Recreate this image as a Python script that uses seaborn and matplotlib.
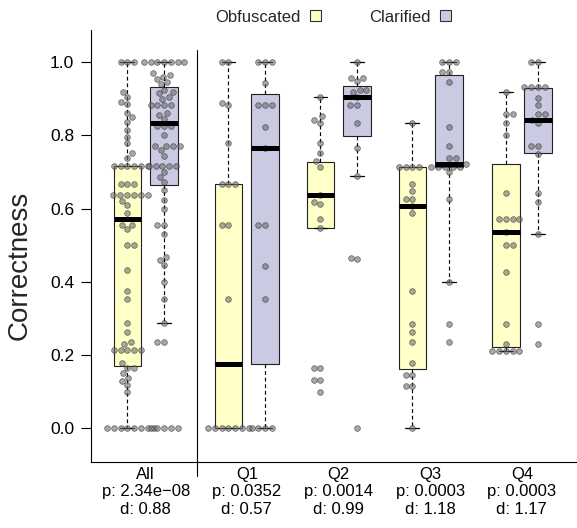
import numpy as np
import matplotlib
matplotlib.use("Agg")
import matplotlib.pyplot as plt
from matplotlib.patches import Patch
import seaborn as sns

# ---------------- data ----------------
groups = ["All", "Q1", "Q2", "Q3", "Q4"]
p_values = ["2.34e\u221208", "0.0352", "0.0014", "0.0003", "0.0003"]
d_values = ["0.88", "0.57", "0.99", "1.18", "1.17"]
conditions = ["Obfuscated", "Clarified"]

all_obf = [1.0, 1.0, 1.0, 0.920, 0.906, 0.892, 0.886, 0.861, 0.850, 0.838, 0.815, 0.797,
           0.779, 0.751, 0.738, 0.717, 0.717, 0.717, 0.717, 0.717, 0.717,
           0.667, 0.667, 0.667, 0.637, 0.637, 0.637, 0.637, 0.637, 0.637,
           0.620, 0.610, 0.589, 0.556, 0.556, 0.544, 0.500, 0.500, 0.432, 0.375,
           0.352, 0.287, 0.264, 0.237, 0.230, 0.214, 0.214, 0.214, 0.214, 0.214,
           0.178, 0.166, 0.166, 0.150, 0.138, 0.128, 0.117, 0.098,
           0.0, 0.0, 0.0, 0.0, 0.0, 0.0, 0.0, 0.0]
all_clar = [1.0, 1.0, 1.0, 1.0, 1.0, 1.0, 1.0, 0.970, 0.965, 0.960, 0.955, 0.945,
            0.940, 0.925, 0.920, 0.915, 0.906, 0.900, 0.883, 0.883, 0.883, 0.883,
            0.861, 0.855, 0.845, 0.826, 0.826, 0.826, 0.800, 0.770, 0.770, 0.770,
            0.770, 0.760, 0.745, 0.717, 0.717, 0.717, 0.717, 0.717, 0.700, 0.686,
            0.672, 0.651, 0.624, 0.600, 0.556, 0.556, 0.530, 0.469, 0.460, 0.446,
            0.399, 0.353, 0.287, 0.236, 0.236, 0.0, 0.0, 0.0, 0.0, 0.0]
q1_obf = [1.0, 1.0, 0.889, 0.883, 0.778, 0.667, 0.667, 0.667, 0.556, 0.556, 0.353,
          0.0, 0.0, 0.0, 0.0, 0.0, 0.0, 0.0]
q1_clar = [1.0, 1.0, 1.0, 0.942, 0.883, 0.883, 0.883, 0.824, 0.765, 0.556, 0.556,
           0.444, 0.353, 0.0, 0.0, 0.0, 0.0]
q2_obf = [0.904, 0.852, 0.843, 0.835, 0.778, 0.752, 0.729, 0.715, 0.637, 0.617,
          0.613, 0.571, 0.546, 0.166, 0.166, 0.132, 0.132, 0.098]
q2_clar = [1.0, 0.958, 0.958, 0.950, 0.925, 0.925, 0.920, 0.906, 0.883, 0.883,
           0.835, 0.765, 0.688, 0.466, 0.463, 0.0]
q3_obf = [0.834, 0.715, 0.715, 0.715, 0.715, 0.668, 0.647, 0.626, 0.626, 0.608,
          0.589, 0.375, 0.285, 0.264, 0.235, 0.178, 0.146, 0.146, 0.116, 0.116, 0.0]
q3_clar = [1.0, 1.0, 1.0, 0.972, 0.972, 0.947, 0.824, 0.770, 0.738, 0.738, 0.721,
           0.715, 0.715, 0.715, 0.715, 0.715, 0.701, 0.626, 0.399, 0.285, 0.235]
q4_obf = [0.918, 0.859, 0.859, 0.834, 0.800, 0.642, 0.572, 0.572, 0.572, 0.572,
          0.535, 0.500, 0.500, 0.428, 0.285, 0.230, 0.212, 0.212, 0.212, 0.212, 0.212]
q4_clar = [1.0, 1.0, 0.931, 0.931, 0.931, 0.931, 0.902, 0.883, 0.859, 0.859, 0.842,
           0.834, 0.770, 0.770, 0.750, 0.642, 0.617, 0.530, 0.285, 0.230]

# box statistics (R boxplot hinges), order: All obf, All clar, Q1 obf, ...
box_q1 = [0.171, 0.664, 0.0, 0.177, 0.546, 0.799, 0.161, 0.715, 0.222, 0.752]
box_med = [0.571, 0.835, 0.177, 0.765, 0.637, 0.906, 0.608, 0.721, 0.535, 0.842]
box_q3 = [0.717, 0.932, 0.667, 0.913, 0.728, 0.936, 0.715, 0.964, 0.722, 0.929]
box_lo = [0.0, 0.287, 0.0, 0.0, 0.546, 0.688, 0.0, 0.399, 0.212, 0.530]
box_hi = [1.0, 1.0, 1.0, 1.0, 0.904, 1.0, 0.834, 1.0, 0.918, 1.0]

box_values = [all_obf, all_clar, q1_obf, q1_clar, q2_obf, q2_clar,
              q3_obf, q3_clar, q4_obf, q4_clar]

# ---------------- layout ----------------
group_pos = [0.0, 1.1, 2.1, 3.1, 4.09]
pair_half = [0.2, 0.2, 0.2, 0.2, 0.175]
box_pos = []
for gp, h in zip(group_pos, pair_half):
    box_pos += [gp - h, gp + h]

fill_colors = {"Obfuscated": "#FFFFC8", "Clarified": "#CACAE2"}

sns.set_style("ticks")
plt.rcParams["font.family"] = ["Liberation Sans", "DejaVu Sans"]

fig = plt.figure(figsize=(5.77, 5.28), dpi=100)
ax = fig.add_axes([91 / 577, 66 / 528, 1 - 91 / 577, (462 - 30) / 528])

stats = []
for q1, md, q3, lo, hi in zip(box_q1, box_med, box_q3, box_lo, box_hi):
    stats.append(dict(q1=q1, med=md, q3=q3, whislo=lo, whishi=hi, fliers=[]))

res = ax.bxp(stats, positions=box_pos, widths=0.3, showfliers=False,
             patch_artist=True, capwidths=0.15, manage_ticks=False,
             boxprops=dict(linewidth=0.8, edgecolor="#222222"),
             medianprops=dict(color="black", linewidth=3.6, solid_capstyle="butt"),
             whiskerprops=dict(color="black", linewidth=0.85, linestyle=(0, (3.2, 2.4))),
             capprops=dict(color="black", linewidth=0.9))
for i, patch in enumerate(res["boxes"]):
    patch.set_facecolor(fill_colors[conditions[i % 2]])
    patch.set_zorder(2)
for ln in res["medians"]:
    ln.set_zorder(5)

for vals, pos in zip(box_values, box_pos):
    sns.swarmplot(x=np.full(len(vals), pos), y=np.array(vals), native_scale=True,
                  orient="x", size=4.1, color="#6e6e6e", edgecolor="#262626",
                  linewidth=0.55, alpha=0.6, ax=ax, zorder=4, warn_thresh=1.0)

# separator between "All" and the questions
ax.plot([0.56, 0.56], [1.034, -0.13], color="black", linewidth=0.8,
        clip_on=False, zorder=6)

ax.set_xlim(-0.595, 4.69)
ax.set_ylim(-0.092, 1.088)
ax.set_yticks([0.0, 0.2, 0.4, 0.6, 0.8, 1.0])
ax.set_yticklabels([f"{v:.1f}" for v in [0.0, 0.2, 0.4, 0.6, 0.8, 1.0]])
ax.set_xticks(group_pos)
ax.set_xticklabels([f"{g}\np: {p}\nd: {d}" for g, p, d in zip(groups, p_values, d_values)],
                   linespacing=1.2)
ax.tick_params(axis="x", length=0, pad=3.5, labelsize=12, colors="black")
ax.tick_params(axis="y", length=7, width=0.8, pad=5, labelsize=12.5, colors="black")
ax.set_xlabel("")
ax.set_ylabel("Correctness", fontsize=20)
ax.yaxis.set_label_coords(-0.12, 0.454)

for side in ["top", "right"]:
    ax.spines[side].set_visible(False)
for side in ["left", "bottom"]:
    ax.spines[side].set_linewidth(0.8)
    ax.spines[side].set_color("black")

handles = [Patch(facecolor=fill_colors[c], edgecolor="#333333", linewidth=0.8) for c in conditions]
fig.legend(handles, conditions, loc="center", bbox_to_anchor=(333 / 577, 1 - 17 / 528),
           ncol=2, frameon=False, markerfirst=False, fontsize=12,
           handlelength=0.65, handleheight=0.65, handletextpad=0.55,
           columnspacing=2.9, borderpad=0.0)

fig.savefig("out.png", dpi=100)
